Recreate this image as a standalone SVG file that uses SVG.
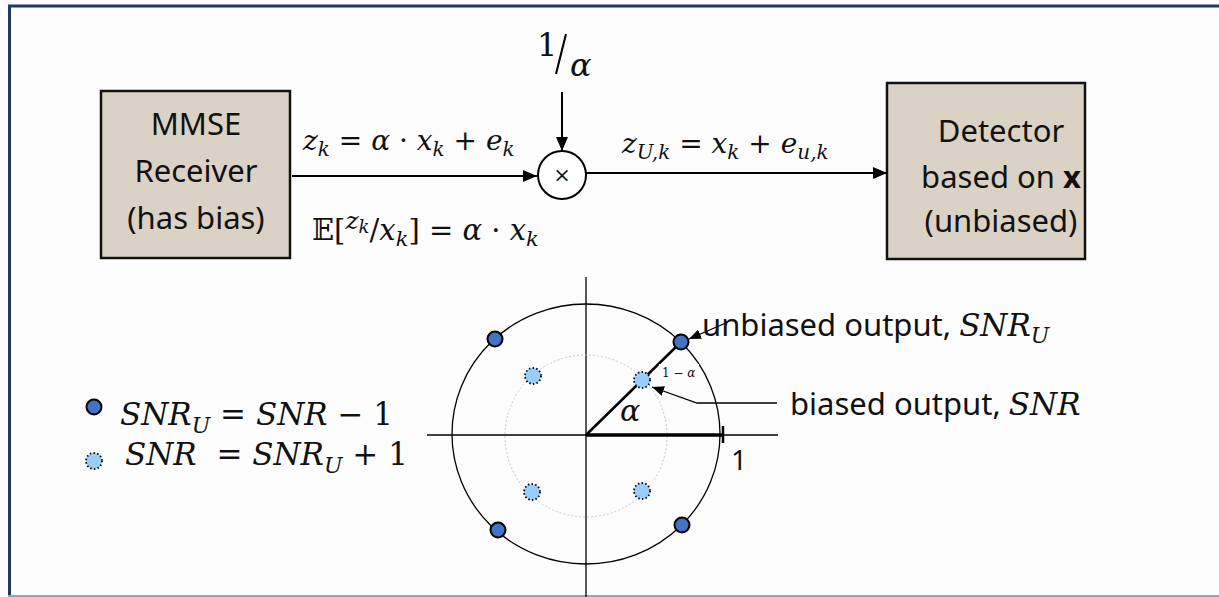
<svg xmlns="http://www.w3.org/2000/svg" width="1219" height="597" viewBox="0 0 1219 597">
<style>
.box{fill:#dad2c4;stroke:#111;stroke-width:2.5}
.lbl{font-family:"Noto Sans","Open Sans",sans-serif;font-size:31px;fill:#111;text-anchor:middle}
.sans{font-family:"Noto Sans","Open Sans",sans-serif;fill:#111}
.m{font-family:"DejaVu Serif","Liberation Serif",serif;font-style:italic;fill:#111}
.mr{font-family:"DejaVu Serif","Liberation Serif",serif;font-style:normal;fill:#111}
.ln{stroke:#000;stroke-width:2;fill:none}
.thin{stroke:#000;stroke-width:1.3;fill:none}
.big{fill:#4472c4;stroke:#000;stroke-width:2}
.small{fill:#99ccff;stroke:#000;stroke-width:1.8;stroke-dasharray:1.5 2.2}
</style>
<defs>
<marker id="ah" markerUnits="userSpaceOnUse" markerWidth="14" markerHeight="12" refX="14" refY="6" orient="auto">
<path d="M0,0 L14,6 L0,12 Z" fill="#000"/>
</marker>
<marker id="ahs" markerUnits="userSpaceOnUse" markerWidth="12" markerHeight="10" refX="12" refY="5" orient="auto">
<path d="M0,0 L12,5 L0,10 Z" fill="#000"/>
</marker>
</defs>
<rect width="1219" height="597" fill="#fdfdfd"/>
<!-- frame -->
<line x1="8" y1="6" x2="1219" y2="6" stroke="#1f3864" stroke-width="3"/>
<line x1="9.5" y1="5" x2="9.5" y2="597" stroke="#1f3864" stroke-width="3"/>
<line x1="8" y1="596" x2="1219" y2="596" stroke="#9aa3b5" stroke-width="2"/>

<g id="mmse">
<rect class="box" x="101" y="91" width="189" height="167"/>
<text class="lbl" x="196" y="135">MMSE</text>
<text class="lbl" x="196" y="182">Receiver</text>
<text class="lbl" x="196" y="229">(has bias)</text>
</g>

<g id="detector">
<rect class="box" x="887" y="83" width="198" height="176"/>
<text class="lbl" x="1001" y="142">Detector</text>
<text class="lbl" x="1001" y="188">based on <tspan font-weight="bold">x</tspan></text>
<text class="lbl" x="1001" y="232">(unbiased)</text>
</g>

<g id="multiplier">
<circle cx="562" cy="175" r="24" fill="#fff" stroke="#000" stroke-width="2"/>
<text class="mr" x="562" y="182" font-size="21" text-anchor="middle" font-style="normal">×</text>
</g>

<g id="scale">
<text class="mr" x="537" y="56" font-size="32" font-style="normal">1</text>
<line x1="566" y1="34" x2="556" y2="74" stroke="#000" stroke-width="2"/>
<text class="m" x="570" y="76" font-size="32">α</text>
</g>

<g id="connectors">
<line class="ln" x1="292" y1="176" x2="537" y2="176" marker-end="url(#ah)"/>
<line class="ln" x1="562" y1="92" x2="562" y2="151" marker-end="url(#ah)"/>
<line class="ln" x1="586" y1="173" x2="887" y2="173" marker-end="url(#ah)"/>
</g>

<g id="labels">
<text class="m" x="303" y="150" font-size="28">z<tspan font-size="20" dy="6">k</tspan><tspan dy="-6" class="mr"> = </tspan>α<tspan class="mr"> · </tspan>x<tspan font-size="20" dy="6">k</tspan><tspan dy="-6" class="mr"> + </tspan>e<tspan font-size="20" dy="6">k</tspan></text>
<text class="mr" x="312" y="240" font-size="29">𝔼[<tspan class="m" font-size="25" dy="-11">z</tspan><tspan class="m" font-size="18" dy="4">k</tspan><tspan dy="7" font-size="29">/</tspan><tspan class="m" font-size="29">x</tspan><tspan class="m" font-size="21" dy="6">k</tspan><tspan dy="-6">] = </tspan><tspan class="m">α</tspan> · <tspan class="m">x</tspan><tspan class="m" font-size="21" dy="6">k</tspan></text>
<text class="m" x="622" y="153" font-size="28">z<tspan font-size="20" dy="6">U,k</tspan><tspan dy="-6" class="mr"> = </tspan>x<tspan font-size="20" dy="6">k</tspan><tspan dy="-6" class="mr"> + </tspan>e<tspan font-size="20" dy="6">u,k</tspan></text>
</g>

<g id="constellation">
<line class="thin" x1="427" y1="435" x2="778" y2="435"/>
<line class="thin" x1="586" y1="277" x2="586" y2="597"/>
<ellipse cx="586" cy="434" rx="134" ry="130" class="thin"/>
<circle cx="586" cy="436" r="81" fill="none" stroke="#c8c8c8" stroke-width="1" stroke-dasharray="2 2"/>
<line x1="586" y1="435" x2="681" y2="342" stroke="#000" stroke-width="2.5"/>
<line x1="586" y1="435" x2="722" y2="435" stroke="#000" stroke-width="3.5"/>
<line x1="723" y1="426" x2="723" y2="443" stroke="#000" stroke-width="2.5"/>
<rect x="659" y="364" width="40" height="17" fill="#fdfdfd"/>
<text class="mr" x="662" y="377" font-size="12">1 − <tspan class="m">α</tspan></text>
<text class="m" x="620" y="421" font-size="30">α</text>
<text class="sans" x="731" y="470" font-size="28">1</text>
<circle class="small" cx="533" cy="376" r="8"/>
<circle class="small" cx="642" cy="380" r="8"/>
<circle class="small" cx="532" cy="492" r="8"/>
<circle class="small" cx="642" cy="491" r="8"/>
<circle class="big" cx="495" cy="339" r="7.5"/>
<circle class="big" cx="681" cy="342" r="7.5"/>
<circle class="big" cx="498" cy="530" r="7.5"/>
<circle class="big" cx="682" cy="525" r="7.5"/>
</g>

<g id="annotations">
<polyline class="thin" points="728,322 689,339" marker-end="url(#ahs)"/>
<polyline class="thin" points="777,403 697,403 652,387" marker-end="url(#ahs)"/>
<text class="sans" x="702" y="336" font-size="31">unbiased output, <tspan class="m">SNR</tspan><tspan class="m" font-size="22" dy="7">U</tspan></text>
<text class="sans" x="790" y="415" font-size="31">biased output, <tspan class="m">SNR</tspan></text>
</g>

<g id="legend">
<circle class="big" cx="94" cy="407" r="7.5"/>
<circle class="small" cx="94" cy="461" r="8"/>
<text class="m" x="120" y="425" font-size="31">SNR<tspan font-size="22" dy="8">U</tspan><tspan dy="-8" class="mr"> = </tspan>SNR<tspan class="mr"> − 1</tspan></text>
<text class="m" x="125" y="465" font-size="31">SNR<tspan class="mr" xml:space="preserve">  = </tspan>SNR<tspan font-size="22" dy="8">U</tspan><tspan dy="-8" class="mr"> + 1</tspan></text>
</g>
</svg>
